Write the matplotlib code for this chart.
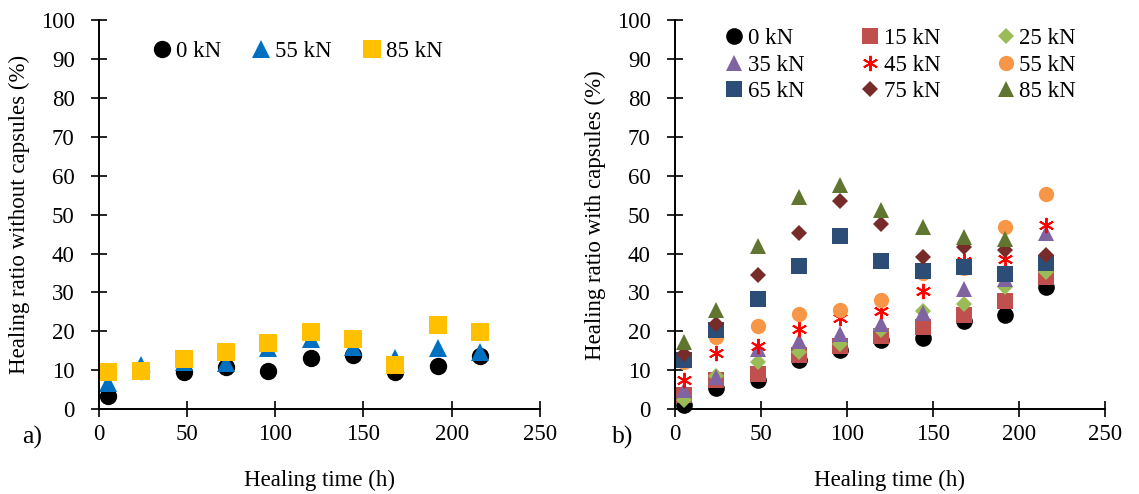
import numpy as np
import matplotlib
matplotlib.use('Agg')
import matplotlib.pyplot as plt

plt.rcParams['font.family'] = ['Liberation Serif', 'DejaVu Serif']

# Healing time (h)
hours = [5, 24, 48, 72, 96, 120, 144, 168, 192, 216]

# a) without capsules
left_labels = ['0 kN', '55 kN', '85 kN']
left_0kn = [3.3, 9.8, 9.6, 10.8, 9.8, 13.0, 13.8, 9.6, 11.0, 13.7]
left_55kn = [6.8, 11.4, 12.0, 11.8, 15.8, 18.0, 15.9, 13.2, 15.7, 14.7]
left_85kn = [9.6, 9.8, 12.9, 14.6, 16.9, 19.8, 18.0, 11.4, 21.6, 19.8]

# b) with capsules
right_labels = ['0 kN', '15 kN', '25 kN', '35 kN', '45 kN',
                '55 kN', '65 kN', '75 kN', '85 kN']
r_0kn = [1.0, 5.3, 7.4, 12.5, 15.1, 17.8, 18.3, 22.6, 24.2, 31.5]
r_15kn = [3.5, 7.4, 9.1, 13.8, 16.3, 18.9, 21.1, 24.2, 27.9, 34.0]
r_25kn = [2.4, 8.6, 12.0, 14.6, 16.8, 20.2, 25.1, 27.0, 31.4, 35.2]
r_35kn = [4.8, 8.2, 15.5, 17.4, 19.4, 22.0, 24.6, 31.0, 33.5, 45.2]
r_45kn = [7.4, 14.4, 16.3, 20.6, 23.3, 25.1, 30.4, 38.0, 38.6, 47.3]
r_55kn = [12.0, 18.6, 21.3, 24.4, 25.4, 28.1, 35.0, 36.2, 46.8, 55.3]
r_65kn = [12.7, 20.3, 28.4, 36.7, 44.6, 38.1, 35.4, 36.6, 34.8, 37.6]
r_75kn = [14.2, 21.9, 34.6, 45.2, 53.4, 47.7, 39.0, 41.8, 40.8, 39.7]
r_85kn = [17.2, 25.4, 41.9, 54.6, 57.6, 51.2, 46.9, 44.3, 43.8]

left_series = [left_0kn, left_55kn, left_85kn]
left_style = [('o', '#000000', 12.5), ('^', '#0070C0', 12.5), ('s', '#FFC000', 12.5)]

right_series = [r_0kn, r_15kn, r_25kn, r_35kn, r_45kn, r_55kn, r_65kn, r_75kn, r_85kn]
right_style = [('o', '#000000', 12), ('s', '#C0504D', 11), ('D', '#9BBB59', 8),
               ('^', '#8064A2', 11), ((6, 2, 0), '#FF0000', 11), ('o', '#F79646', 11),
               ('s', '#2C4D75', 11), ('D', '#772C2A', 8), ('^', '#5F7530', 11)]

FS = 16.5

fig = plt.figure(figsize=(11.39, 4.94), dpi=100)
ax1 = fig.add_axes([0.0869, 0.172, 0.387, 0.787])
ax2 = fig.add_axes([0.5926, 0.172, 0.3775, 0.787])


def style_axis(ax):
    ax.set_xlim(0, 250)
    ax.set_ylim(0, 100)
    ax.set_xticks(np.arange(0, 251, 50))
    ax.set_yticks(np.arange(0, 101, 10))
    for s in ['top', 'right']:
        ax.spines[s].set_visible(False)
    for s in ['left', 'bottom']:
        ax.spines[s].set_linewidth(1.4)
    ax.tick_params(axis='both', direction='inout', length=11, width=1.2,
                   labelsize=FS)
    ax.tick_params(axis='y', pad=12)
    ax.tick_params(axis='x', pad=5)
    ax.set_xlabel('Healing time (h)', fontsize=FS, labelpad=18)


for vals, lab, (m, c, ms) in zip(left_series, left_labels, left_style):
    ax1.plot(hours[:len(vals)], vals, linestyle='none', marker=m, color=c,
             markersize=ms, markeredgewidth=0, label=lab, clip_on=False)

for vals, lab, (m, c, ms) in zip(right_series, right_labels, right_style):
    mew = 1.4 if isinstance(m, tuple) else 0
    ax2.plot(hours[:len(vals)], vals, linestyle='none', marker=m, color=c,
             markersize=ms, markeredgewidth=mew, label=lab, clip_on=False)

style_axis(ax1)
style_axis(ax2)
ax1.set_ylabel('Healing ratio without capsules (%)', fontsize=FS, labelpad=8)
ax2.set_ylabel('Healing ratio with capsules (%)', fontsize=FS, labelpad=8)

ax1.legend(loc='upper left', bbox_to_anchor=(0.094, 0.975), ncol=3, frameon=False,
           fontsize=FS, handlelength=0.9, handletextpad=0.15, columnspacing=1.3,
           borderpad=0)

# legend fills column by column; reorder so it reads row by row
h, l = ax2.get_legend_handles_labels()
order = [0, 3, 6, 1, 4, 7, 2, 5, 8]
ax2.legend([h[i] for i in order], [l[i] for i in order],
           loc='upper left', bbox_to_anchor=(0.087, 1.01), ncol=3, frameon=False,
           fontsize=FS, handlelength=0.9, handletextpad=0.15, columnspacing=2.4,
           labelspacing=0.25, borderpad=0)

fig.text(22 / 1139, 1 - 437 / 494, 'a)', fontsize=FS + 2, va='center', ha='left')
fig.text(612 / 1139, 1 - 437 / 494, 'b)', fontsize=FS + 2, va='center', ha='left')

fig.savefig('out.png', dpi=100)
